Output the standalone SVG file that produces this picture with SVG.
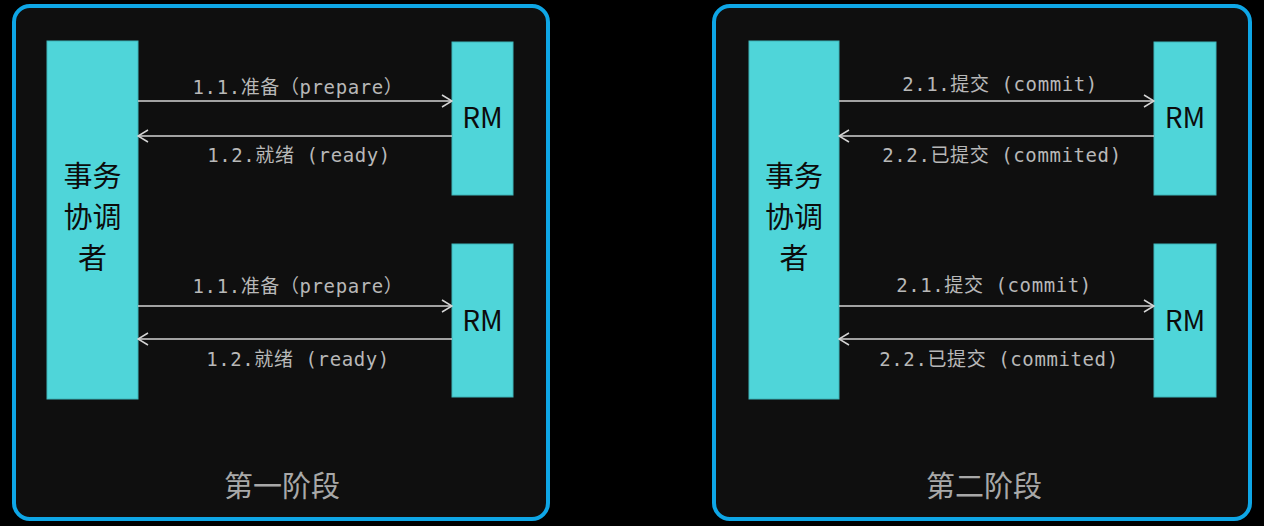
<svg xmlns="http://www.w3.org/2000/svg" width="1264" height="526" viewBox="0 0 1264 526">
<defs>
<style>
.panel{fill:#0f0f0f;stroke:#0ea6e6;stroke-width:4}
.box{fill:#4fd5d9;stroke:#3fb5b9;stroke-width:1}
.big{font-family:"Noto Sans CJK SC","Liberation Sans",sans-serif;font-size:29px;fill:#0c0c0c;text-anchor:middle}
.rm{font-family:"Noto Sans CJK SC","Liberation Sans",sans-serif;font-size:28px;fill:#0c0c0c;text-anchor:middle}
.lbl{font-family:"DejaVu Sans Mono","Noto Sans CJK SC",monospace;font-size:19px;letter-spacing:0.6px;fill:#b8b8b8;text-anchor:middle}
.title{font-family:"Noto Sans CJK SC",sans-serif;font-size:29px;fill:#a8a8a8;text-anchor:middle}
.conn line{stroke:#d4d4d4;stroke-width:1.5;fill:none}
</style>
<marker id="ah" markerUnits="userSpaceOnUse" markerWidth="12" markerHeight="14" refX="11" refY="7" orient="auto">
<path d="M1,1 L11,7 L1,13" fill="none" stroke="#d4d4d4" stroke-width="1.5"/>
</marker>
</defs>
<rect x="0" y="0" width="1264" height="526" fill="#000"/>
<g id="phase1">
<rect class="panel" x="14" y="6" width="534" height="513" rx="16"/>
<text class="title" x="282" y="497">第一阶段</text>
</g>
<g id="phase2">
<rect class="panel" x="714" y="6" width="536" height="513" rx="16"/>
<text class="title" x="984" y="497">第二阶段</text>
</g>
<g id="coord1">
<rect class="box" x="47" y="41" width="91" height="358"/>
<text class="big" x="92.5" y="187">事务</text>
<text class="big" x="92.5" y="228">协调</text>
<text class="big" x="92.5" y="269">者</text>
</g>
<g id="rm1a">
<rect class="box" x="452" y="42" width="61" height="153"/>
<text class="rm" x="482.5" y="128">RM</text>
</g>
<g id="rm1b">
<rect class="box" x="452" y="244" width="61" height="153"/>
<text class="rm" x="482.5" y="331">RM</text>
</g>
<g id="coord2">
<rect class="box" x="749" y="41" width="90" height="358"/>
<text class="big" x="794" y="187">事务</text>
<text class="big" x="794" y="228">协调</text>
<text class="big" x="794" y="269">者</text>
</g>
<g id="rm2a">
<rect class="box" x="1154" y="42" width="62" height="153"/>
<text class="rm" x="1185" y="128">RM</text>
</g>
<g id="rm2b">
<rect class="box" x="1154" y="244" width="62" height="153"/>
<text class="rm" x="1185" y="331">RM</text>
</g>
<g id="connectors" class="conn">
<line x1="138" y1="101" x2="452" y2="101" marker-end="url(#ah)"/>
<line x1="452" y1="136" x2="138" y2="136" marker-end="url(#ah)"/>
<line x1="138" y1="306" x2="452" y2="306" marker-end="url(#ah)"/>
<line x1="452" y1="339" x2="138" y2="339" marker-end="url(#ah)"/>
<line x1="839" y1="101" x2="1154" y2="101" marker-end="url(#ah)"/>
<line x1="1154" y1="136" x2="839" y2="136" marker-end="url(#ah)"/>
<line x1="839" y1="306" x2="1154" y2="306" marker-end="url(#ah)"/>
<line x1="1154" y1="339" x2="839" y2="339" marker-end="url(#ah)"/>
</g>
<g id="labels">
<text class="lbl" x="298" y="94">1.1.准备（prepare）</text>
<text class="lbl" x="299" y="162">1.2.就绪 (ready)</text>
<text class="lbl" x="298" y="293">1.1.准备（prepare）</text>
<text class="lbl" x="298" y="366">1.2.就绪 (ready)</text>
<text class="lbl" x="1000" y="91">2.1.提交 (commit)</text>
<text class="lbl" x="1002" y="162">2.2.已提交 (commited)</text>
<text class="lbl" x="994" y="292">2.1.提交 (commit)</text>
<text class="lbl" x="999" y="366">2.2.已提交 (commited)</text>
</g>
</svg>
